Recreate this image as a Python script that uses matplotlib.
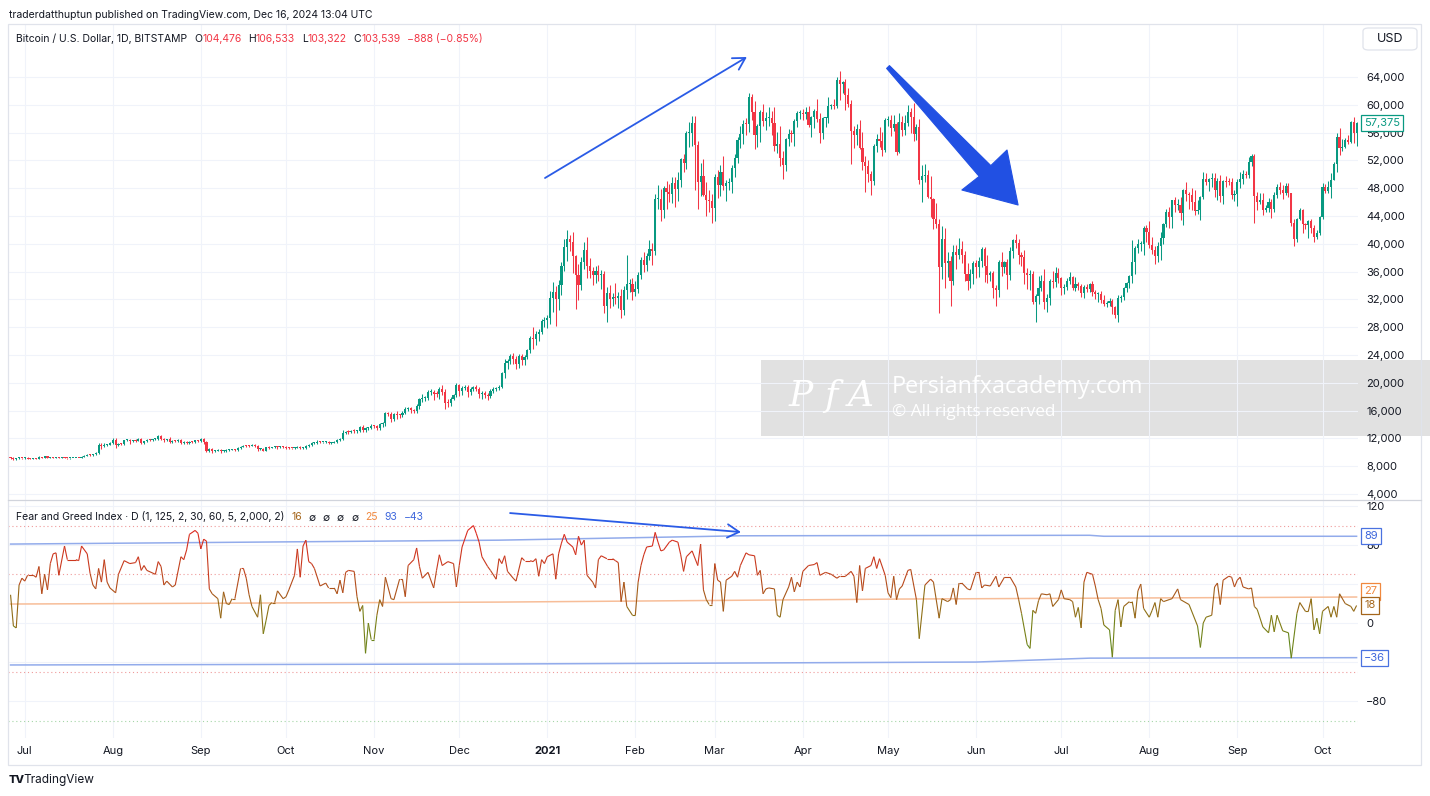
import numpy as np
import pandas as pd
import matplotlib
matplotlib.use("Agg")
import matplotlib.pyplot as plt
from matplotlib.collections import LineCollection
from matplotlib.colors import LinearSegmentedColormap, Normalize
from matplotlib.patches import Rectangle, Polygon, FancyBboxPatch
from matplotlib.lines import Line2D

plt.rcParams["font.family"] = ["Inter", "DejaVu Sans"]

W, H = 1430, 796
START = "2020-06-26"

# BTC/USD daily closes (Bitstamp), 2020-06-26 .. 2021-10-13
first_open = 9250
close = [
    9160, 9010, 9120, 9190, 9135,  # Jun 2020
    9230, 9090, 9060, 9130, 9075, 9340, 9250, 9430, 9235, 9290, 9235, 9300, 9240, 9250, 9195, 9130,
    9150, 9170, 9210, 9165, 9390, 9530, 9610, 9550, 9700, 9930, 11030, 10930, 11100, 11110, 11350,
    11800, 11070, 11230, 11190, 11750, 11770, 11600, 11760, 11690, 11890, 11400, 11580, 11780, 11770,
    11870, 11910, 12300, 11960, 11750, 11860, 11530, 11680, 11650, 11770, 11340, 11470, 11330, 11540,
    11480, 11710, 11680,
    11970, 11420, 10170, 10470, 10170, 10250, 10380, 10130, 10240, 10350, 10400, 10440, 10330, 10680,
    10790, 10960, 10950, 10940, 11090, 10920, 10420, 10540, 10240, 10740, 10690, 10730, 10780, 10700,
    10840, 10780,
    10620, 10570, 10550, 10670, 10790, 10600, 10670, 10920, 11060, 11300, 11380, 11550, 11420, 11430,
    11500, 11320, 11370, 11510, 11750, 11910, 12820, 12990, 12930, 13120, 13040, 13070, 13650, 13280,
    13460, 13560, 13800,
    13760, 13550, 14030, 14150, 15590, 15580, 14840, 15480, 15330, 15310, 15700, 16290, 16330, 16070,
    15960, 16730, 17660, 17800, 17820, 18690, 18690, 18420, 18370, 19160, 18730, 17150, 17140, 17720,
    18180, 19700,
    18770, 19220, 19430, 18650, 19150, 19360, 19170, 18320, 18550, 18250, 18040, 18800, 19170, 19270,
    19440, 21380, 22840, 23110, 23850, 23480, 22740, 23810, 23240, 23730, 24690, 26440, 26250, 27040,
    27370, 28860, 28990,
    29390, 32190, 33000, 32020, 34040, 36820, 39470, 40670, 40240, 38240, 35540, 34010, 37390, 39150,
    36830, 36070, 35550, 36020, 35500, 35600, 31000, 32990, 32100, 32290, 32250, 32510, 30430, 33400,
    34270, 34270, 33110,
    33520, 35510, 37670, 36990, 38290, 39260, 38900, 46440, 46510, 44850, 48000, 47410, 47230, 48720,
    47940, 49160, 52150, 51680, 55890, 55920, 57410, 54200, 48880, 49700, 47060, 46280, 46110, 45140,
    49590, 48440, 50350, 48370, 48750, 48880, 50970, 52380, 54880, 55860, 57250, 57230, 61180, 59000,
    55630, 56900, 58910, 57650, 58030, 58100, 57350, 54100, 54340, 52300, 51300, 55070, 55840, 55780,
    57610, 58760, 58800,
    58740, 58970, 57060, 58200, 59130, 57990, 56000, 58090, 58090, 59770, 59960, 59840, 63550, 62960,
    63230, 61450, 60060, 56220, 55720, 56470, 53800, 51700, 51190, 50110, 49070, 54020, 55030, 54820,
    53560, 57750,
    57830, 56630, 57210, 53240, 57470, 56430, 57360, 58920, 58280, 55860, 56750, 49150, 49720, 49880,
    46760, 46450, 43540, 42910, 36730, 40630, 37300, 37540, 34700, 38800, 38340, 39240, 38400, 35680,
    34610, 35680, 37300,
    36680, 37570, 39190, 36850, 35520, 35800, 33570, 33400, 37390, 36690, 37340, 35550, 39020, 40530,
    40160, 38350, 38090, 35820, 35480, 35600, 31680, 32510, 33690, 34670, 31640, 32160, 34650, 34500,
    35870, 35040,
    33570, 33810, 34670, 35290, 33690, 34230, 33860, 32880, 33810, 33510, 34260, 33090, 32730, 32820,
    31880, 31390, 31530, 31780, 30840, 29790, 32140, 32310, 33580, 34290, 35350, 37340, 39410, 40020,
    40030, 42240, 41630,
    39860, 39150, 38190, 39720, 40870, 42830, 44630, 43820, 46280, 45580, 45590, 44430, 47810, 47100,
    47050, 45990, 44700, 44800, 46720, 49340, 48870, 49270, 49510, 47710, 48970, 46870, 49070, 48900,
    48830, 47050, 47160,
    48830, 49260, 49990, 49920, 51790, 52700, 46880, 46070, 46370, 44850, 45160, 46060, 44960, 47090,
    48150, 47770, 47300, 48310, 47260, 43010, 40730, 43570, 44890, 42830, 42720, 43210, 42240, 41030,
    41520, 43790,
    48140, 47660, 48230, 49250, 51490, 55340, 53800, 53970, 54960, 54680, 57480, 56010, 57375,
]

# wick length above / below the body, percent of price
upper_wick_pct = [
    0.8, 1.2, 0.6, 0.9, 0.5,
    0.7, 0.6, 0.5, 0.4, 0.5, 0.6, 0.5, 0.4, 0.8, 0.6, 0.4, 0.5, 0.7, 0.6, 0.5, 0.4, 0.4, 0.5, 0.3, 0.4,
    0.8, 0.9, 1.0, 0.8, 0.7, 1.5, 3.4, 2.4, 1.8, 1.2, 1.0,
    2.6, 2.5, 1.2, 1.3, 0.7, 0.9, 1.5, 0.6, 0.9, 1.4, 1.7, 0.9, 0.8, 1.2, 0.9, 0.8, 1.0, 2.1, 1.4, 0.6,
    2.4, 0.8, 0.9, 1.0, 1.7, 1.1, 1.5, 0.8, 0.6, 0.7, 0.9,
    1.0, 1.0, 1.3, 1.1, 1.5, 1.2, 0.9, 1.6, 1.2, 1.8, 0.6, 0.7, 0.8, 1.3, 1.0, 0.8, 1.0, 1.1, 0.8, 0.9,
    1.2, 1.0, 1.2, 0.8, 1.0, 0.7, 1.0, 1.4, 0.6, 0.8,
    1.7, 0.9, 0.7, 0.9, 1.2, 1.3, 0.8, 1.4, 1.0, 1.4, 1.0, 1.3, 1.1, 1.0, 1.0, 1.2, 0.7, 0.8, 1.2, 1.3,
    3.0, 0.9, 1.3, 0.8, 1.3, 1.5, 1.0, 2.3, 1.2, 1.0, 1.6,
    1.0, 1.5, 1.2, 1.5, 1.6, 1.5, 1.3, 1.0, 2.6, 1.4, 1.3, 1.3, 1.0, 1.4, 1.2, 1.4, 1.0, 3.0, 1.4, 1.5,
    2.0, 1.6, 2.0, 1.5, 2.5, 2.0, 2.8, 1.4, 1.4, 1.4,
    1.0, 1.5, 1.6, 1.0, 1.0, 1.0, 1.4, 1.2, 1.8, 1.5, 1.2, 1.3, 1.2, 0.9, 1.2, 1.0, 2.5, 1.1, 1.0, 2.0,
    1.3, 1.5, 1.2, 1.4, 0.8, 1.0, 6.0, 1.5, 1.6, 1.0, 1.7,
    1.0, 3.0, 4.4, 3.0, 2.2, 1.6, 3.2, 3.1, 1.5, 3.7, 0.3, 4.5, 1.9, 3.0, 4.5, 3.0, 1.6, 2.0, 2.7, 1.6,
    1.5, 2.5, 3.2, 2.0, 6.2, 1.5, 3.0, 1.7, 12.0, 2.0, 2.2,
    3.2, 1.3, 1.2, 3.2, 1.0, 3.3, 2.1, 1.6, 4.2, 2.9, 0.8, 2.3, 2.6, 1.8, 1.7, 2.3, 0.3, 1.5, 0.7, 2.8,
    1.6, 1.8, 1.0, 3.9, 5.0, 4.0, 3.3, 2.3,
    0.8, 2.0, 1.9, 4.4, 0.8, 1.3, 0.7, 0.9, 0.9, 2.0, 1.0, 1.4, 0.9, 0.7, 2.7, 0.7, 0.5, 2.0, 1.7, 2.7,
    1.8, 4.0, 3.1, 4.8, 2.0, 0.4, 1.2, 1.0, 0.7, 0.6, 0.7,
    0.9, 1.3, 1.4, 0.3, 0.4, 2.9, 1.4, 0.2, 0.2, 2.3, 0.3, 1.5, 0.7, 2.0, 0.4, 0.8, 1.6, 1.0, 1.2, 1.4,
    2.5, 4.2, 1.9, 1.7, 0.6, 0.6, 1.3, 3.1, 2.2, 0.6,
    1.0, 1.2, 2.4, 0.6, 2.4, 1.5, 2.0, 1.9, 1.1, 3.3, 0.9, 2.2, 3.2, 3.2, 1.6, 6.5, 0.3, 5.2, 1.4, 4.6,
    3.9, 3.4, 2.0, 2.8, 2.6, 4.0, 3.0, 1.3, 4.3, 2.0, 0.5,
    1.0, 1.3, 1.0, 0.9, 4.3, 0.9, 1.0, 1.6, 0.8, 4.0, 0.6, 1.2, 1.4, 0.3, 2.1, 1.2, 1.2, 2.8, 1.8, 1.8,
    1.5, 1.0, 5.0, 2.3, 5.1, 1.9, 0.7, 4.0, 2.4, 1.8,
    0.7, 1.0, 1.1, 1.8, 0.3, 3.0, 0.8, 1.2, 0.6, 1.2, 0.4, 1.1, 0.9, 0.8, 1.0, 2.5, 0.8, 1.3, 1.0, 0.9,
    1.4, 1.2, 0.8, 0.7, 0.6, 8.5, 0.6, 1.5, 1.1, 0.6, 1.2,
    4.0, 2.9, 1.5, 1.2, 2.0, 0.5, 0.7, 1.5, 0.2, 1.1, 1.9, 2.5, 0.2, 2.2, 0.9, 2.0, 3.8, 3.2, 0.2, 2.0,
    1.8, 0.3, 1.5, 1.3, 1.0, 1.8, 0.2, 1.3, 1.1, 1.3, 1.2,
    0.9, 2.1, 1.3, 0.9, 1.3, 0.5, 0.4, 1.3, 2.0, 2.1, 0.9, 1.1, 0.9, 0.8, 0.8, 1.5, 1.4, 0.8, 1.0, 0.2,
    1.4, 0.3, 0.6, 0.3, 0.4, 0.6, 0.9, 1.0, 1.2, 0.6,
    1.2, 1.0, 1.8, 1.8, 0.5, 1.0, 2.3, 2.1, 0.4, 1.3, 0.3, 1.4, 0.2,
]
lower_wick_pct = [
    1.5, 0.9, 0.8, 0.7, 0.6,
    0.8, 0.9, 0.7, 0.6, 0.8, 0.6, 0.7, 0.6, 0.9, 1.1, 0.5, 0.6, 0.8, 0.9, 0.7, 1.0, 0.5, 0.4, 0.5, 0.6,
    0.4, 0.6, 1.3, 1.1, 0.9, 0.8, 1.2, 3.8, 1.5, 1.4, 1.1,
    1.0, 4.1, 1.4, 1.7, 1.2, 1.1, 2.9, 1.0, 1.5, 1.0, 1.2, 1.5, 1.0, 1.6, 0.7, 1.3, 1.2, 1.9, 1.8, 1.4,
    1.1, 1.9, 1.0, 0.9, 1.3, 1.0, 1.8, 0.9, 0.8, 0.9, 1.2,
    1.2, 2.0, 1.5, 1.9, 2.8, 1.1, 1.3, 2.0, 1.2, 1.4, 0.9, 0.8, 1.6, 1.0, 1.4, 0.9, 1.6, 1.1, 0.9, 1.5,
    2.2, 1.2, 1.0, 0.9, 1.8, 0.8, 0.7, 1.5, 1.0, 0.9,
    1.5, 1.4, 0.6, 0.9, 0.9, 1.5, 0.7, 1.2, 1.0, 1.4, 0.8, 1.4, 1.3, 0.9, 1.2, 1.0, 0.7, 0.8, 0.9, 1.2,
    1.2, 1.6, 2.2, 1.0, 1.7, 2.3, 1.2, 2.7, 2.3, 1.5, 1.4,
    1.6, 2.4, 2.5, 3.0, 2.2, 2.5, 3.7, 1.9, 3.4, 2.2, 1.6, 1.5, 2.5, 2.6, 2.2, 1.6, 3.0, 2.7, 2.4, 1.5,
    2.2, 5.0, 2.0, 3.5, 2.5, 5.0, 3.8, 2.6, 1.5, 1.6,
    3.6, 2.5, 1.2, 3.4, 1.9, 1.8, 1.8, 2.9, 3.4, 2.3, 3.2, 1.2, 1.4, 1.6, 1.4, 1.2, 3.0, 3.6, 1.5, 3.6,
    3.6, 2.5, 3.2, 2.7, 1.4, 1.8, 5.2, 3.2, 3.6, 1.5, 3.0,
    3.6, 3.4, 6.1, 12.0, 5.0, 4.2, 1.8, 5.0, 3.1, 6.5, 14.0, 6.0, 1.8, 2.8, 4.6, 2.6, 4.0, 3.5, 2.4, 5.7,
    3.0, 7.1, 4.2, 3.2, 2.7, 4.7, 3.5, 2.4, 4.2, 3.4, 3.4,
    2.0, 1.6, 1.6, 3.0, 2.4, 1.5, 5.0, 1.3, 3.0, 3.6, 2.6, 5.0, 2.6, 3.0, 5.6, 3.8, 2.0, 2.6, 1.8, 3.4,
    3.2, 12.0, 8.0, 4.2, 0.5, 4.8, 3.2, 4.6,
    4.0, 3.8, 3.3, 1.4, 4.7, 2.2, 3.2, 2.8, 1.5, 1.9, 2.6, 2.8, 2.1, 1.9, 3.5, 3.1, 4.0, 1.3, 2.3, 1.8,
    3.0, 1.4, 1.8, 2.1, 3.8, 1.7, 1.9, 2.0, 3.1, 1.5, 1.3,
    1.7, 1.4, 0.5, 3.0, 2.7, 0.9, 2.8, 1.6, 2.3, 1.2, 0.7, 0.8, 0.4, 3.6, 1.9, 3.5, 0.6, 8.4, 3.6, 2.8,
    0.4, 2.0, 7.2, 2.4, 4.2, 1.3, 1.5, 1.7, 1.8, 0.6,
    1.3, 1.9, 0.6, 1.0, 0.4, 1.6, 1.4, 0.8, 3.9, 1.8, 1.6, 1.1, 6.4, 1.8, 0.3, 5.7, 3.3, 1.4, 18.3, 5.0,
    10.0, 5.4, 10.4, 2.0, 5.0, 1.4, 3.0, 2.7, 3.5, 2.6, 4.0,
    4.2, 3.8, 2.6, 6.3, 3.2, 2.4, 4.2, 7.1, 3.1, 3.5, 2.3, 5.8, 2.0, 2.9, 1.8, 3.1, 3.2, 4.4, 5.4, 6.0,
    1.2, 9.1, 3.7, 1.3, 3.0, 4.5, 2.8, 2.5, 2.0, 2.0,
    3.0, 2.3, 1.2, 1.5, 1.0, 1.3, 1.5, 1.8, 1.9, 1.2, 1.3, 1.6, 1.9, 3.4, 1.1, 1.0, 1.6, 1.5, 3.0, 1.7,
    3.5, 1.7, 1.2, 1.5, 1.8, 2.8, 4.7, 2.0, 2.5, 4.1, 3.4,
    1.1, 1.4, 3.0, 2.0, 5.2, 2.1, 1.1, 3.6, 3.6, 2.1, 1.7, 2.4, 3.8, 2.1, 4.2, 2.3, 1.3, 0.8, 3.0, 0.5,
    0.9, 2.6, 2.2, 2.1, 2.8, 1.9, 2.3, 1.4, 0.9, 1.4, 2.0,
    3.5, 1.7, 1.2, 0.9, 0.8, 1.1, 8.3, 2.6, 0.7, 1.5, 0.5, 1.2, 2.8, 0.7, 1.1, 1.4, 1.7, 0.6, 1.0, 1.2,
    2.6, 1.0, 0.4, 3.0, 1.5, 4.5, 1.5, 1.9, 0.7, 0.7,
    0.5, 0.8, 0.7, 3.3, 0.2, 2.2, 2.0, 0.8, 0.4, 0.6, 0.3, 2.7, 3.5,
]

# oscillator readings: (day from START, value)
osc_points = [
    (0, 29), (1, -3), (2, -5), (3, 39), (4, 46), (5, 43), (6, 49), (8, 49), (9, 47), (10, 58),
    (11, 30), (12, 50), (13, 34), (14, 61), (15, 71), (16, 72), (17, 49), (19, 79), (20, 65),
    (23, 65), (24, 64), (25, 79), (27, 71), (28, 51), (29, 39), (30, 35), (31, 56), (32, 42),
    (33, 65), (34, 42), (35, 36), (37, 31), (38, 50), (40, 64), (42, 61), (44, 62), (45, 68),
    (46, 54), (47, 59), (48, 54), (51, 50), (52, 63), (53, 58), (54, 39), (55, 43), (57, 37),
    (58, 39), (60, 68), (61, 65), (62, 75), (63, 91), (65, 95), (66, 92), (67, 76), (68, 86),
    (69, 84), (70, 35), (71, 30), (73, 25), (74, 5), (75, 32), (76, 20), (77, 19), (78, 25),
    (79, 25), (81, 56), (82, 56), (83, 46), (84, 29), (85, 17), (87, 6), (88, 29), (89, -11),
    (90, 3), (91, 18), (92, 21), (93, 21), (94, 33), (96, 25), (97, 27), (98, 34), (100, 49),
    (101, 76), (102, 47), (103, 79), (104, 85), (105, 63), (106, 61), (107, 56), (109, 38),
    (111, 41), (112, 36), (114, 36), (115, 30), (116, 44), (117, 31), (118, 52), (119, 54),
    (121, 53), (122, 27), (123, 12), (124, 18), (125, -31), (126, 0), (127, -17), (128, -17),
    (129, 8), (130, 24), (131, 17), (132, 47), (134, 25), (135, 24), (137, 45), (138, 45),
    (139, 27), (140, 59), (142, 65), (143, 77), (144, 58), (145, 46), (147, 52), (149, 36),
    (150, 54), (151, 70), (152, 59), (154, 63), (156, 61), (157, 37), (158, 59), (159, 78),
    (161, 95), (163, 100), (164, 92), (165, 83), (166, 68), (168, 58), (169, 54), (171, 45),
    (172, 66), (173, 61), (174, 69), (175, 53), (177, 46), (178, 43), (180, 67), (181, 64),
    (183, 64), (184, 63), (185, 66), (186, 48), (187, 65), (188, 61), (189, 68), (191, 71),
    (192, 45), (193, 71), (194, 82), (195, 91), (196, 83), (198, 78), (199, 70), (200, 89),
    (201, 80), (202, 85), (203, 49), (205, 42), (206, 36), (207, 65), (208, 69), (210, 66),
    (212, 66), (213, 64), (214, 62), (215, 22), (216, 42), (217, 17), (219, 8), (220, 8),
    (221, 42), (222, 59), (223, 70), (224, 78), (226, 79), (227, 93), (228, 83), (229, 74),
    (230, 75), (232, 83), (233, 85), (235, 83), (236, 70), (237, 53), (238, 68), (240, 74),
    (242, 59), (243, 81), (244, 34), (245, 24), (246, 19), (247, 19), (248, 61), (249, 44),
    (250, 42), (251, 12), (252, 44), (254, 48), (255, 53), (256, 47), (257, 59), (259, 72),
    (260, 70), (262, 69), (263, 49), (264, 54), (265, 30), (266, 35), (267, 36), (269, 35),
    (270, 8), (271, 6), (272, 24), (274, 37), (275, 47), (276, 32), (277, 42), (278, 37),
    (279, 53), (281, 59), (283, 60), (284, 62), (285, 49), (287, 52), (289, 50), (291, 46),
    (292, 48), (294, 48), (296, 53), (297, 48), (298, 21), (299, 59), (300, 33), (301, 56),
    (303, 59), (304, 68), (305, 56), (306, 66), (308, 49), (309, 31), (310, 26), (311, 48),
    (312, 24), (313, 35), (314, 38), (316, 54), (317, 55), (319, 24), (320, -16), (322, 39),
    (324, 45), (325, 42), (327, 5), (328, 25), (330, 22), (331, 24), (332, 36), (333, 19),
    (334, 41), (335, 41), (337, 35), (338, 34), (340, 52), (341, 52), (342, 36), (343, 39),
    (345, 38), (347, 48), (348, 37), (350, 47), (352, 47), (354, 37), (355, 24), (356, 10),
    (358, -22), (359, -26), (360, 13), (361, 10), (362, 23), (363, 30), (365, 29), (366, 30),
    (367, 17), (369, 24), (370, 34), (371, 25), (373, 24), (374, 22), (375, 6), (376, 16),
    (377, -5), (378, 42), (379, 52), (381, 50), (382, 38), (383, 24), (384, 15), (385, -2),
    (387, -7), (388, -35), (389, 13), (390, 24), (391, -4), (392, 17), (394, 22), (395, 22),
    (396, 5), (397, 33), (398, 40), (399, 15), (401, 6), (402, 13), (403, 21), (404, 6),
    (405, 25), (406, 22), (408, 24), (409, 25), (411, 35), (412, 24), (415, 19), (418, -3),
    (419, -25), (420, 0), (421, 6), (423, 8), (424, 37), (425, 41), (426, 19), (427, 44),
    (429, 48), (430, 47), (431, 37), (432, 44), (433, 47), (434, 37), (436, 35), (437, 36),
    (438, 17), (439, 14), (441, -4), (443, -10), (444, 8), (445, -9), (446, 8), (448, -8),
    (450, -10), (451, -36), (453, 10), (454, 21), (456, 12), (457, 12), (458, 25), (459, -7),
    (460, 5), (461, -11), (462, 12), (464, 17), (465, 6), (466, 17), (467, 6), (468, 30),
    (470, 20), (472, 17), (473, 12), (474, 18),
]
upper_band_day = [0, 172, 257, 380, 385, 474]
upper_band_val = [81, 85, 89.5, 90, 89, 89]
lower_band_day = [0, 172, 340, 380, 474]
lower_band_val = [-43, -42, -40, -36, -35.5]
mid_band_day = [0, 172, 313, 474]
mid_band_val = [19.5, 21.5, 24.6, 26.7]

price_ticks = list(range(4000, 64001, 4000))
osc_ticks = [120, 80, 0, -80]
osc_grid = [120, 80, 40, 0, -40, -80]
last_price = 57375

UP, DOWN = "#089981", "#f23645"
GRID = "#f0f3fa"
TXT = "#131722"
BLUE = "#2a5be6"


def fx(px):
    return px / W


def fy(py):
    return 1 - py / H


fig = plt.figure(figsize=(W / 100, H / 100), dpi=100)
ax1 = fig.add_axes([fx(8), fy(500), fx(1358) - fx(8), fy(24) - fy(500)])
ax2 = fig.add_axes([fx(8), fy(738), fx(1358) - fx(8), fy(500) - fy(738)])
for ax in (ax1, ax2):
    ax.set_xlim(-0.9, 474.5)
    for s in ax.spines.values():
        s.set_visible(False)
ax1.set_ylim(3137, 71626)
ax2.set_ylim(-117.9, 126.2)

# ---- candles
n = min(len(close), len(upper_wick_pct), len(lower_wick_pct))
c = np.array(close[:n], float)
o = np.r_[first_open, c[:-1]]
uw = np.array(upper_wick_pct[:n]) / 100
lw = np.array(lower_wick_pct[:n]) / 100
top = np.maximum(o, c)
bot = np.minimum(o, c)
hi = top * (1 + uw)
lo = bot * (1 - lw)
days = np.arange(n)
cols = np.where(c >= o, UP, DOWN)
one_px = (71626 - 3137) / 476.0
ax1.vlines(days, lo, hi, colors=cols, lw=0.75, zorder=2)
ax1.bar(days, np.maximum(top - bot, one_px), bottom=bot, width=0.75, color=cols,
        linewidth=0, zorder=3)

# ---- grid
dates = pd.date_range(START, periods=475, freq="D")
month_days = [i for i, d in enumerate(dates) if d.day == 1]
month_labels = ["2021" if dates[i].month == 1 else dates[i].strftime("%b") for i in month_days]
for p in price_ticks:
    ax1.axhline(p, color=GRID, lw=0.8, zorder=0.6)
for v in osc_grid:
    ax2.axhline(v, color=GRID, lw=0.8, zorder=0.6)
for m in month_days:
    ax1.axvline(m, color=GRID, lw=0.8, zorder=0.6)
    ax2.axvline(m, color=GRID, lw=0.8, zorder=0.6)

ax1.set_xticks([])
ax1.yaxis.tick_right()
ax1.set_yticks(price_ticks)
ax1.set_yticklabels([f"{p:,}" for p in price_ticks])
ax1.tick_params(axis="y", length=0, pad=5.8, labelsize=8, labelcolor=TXT)

ax2.yaxis.tick_right()
ax2.set_yticks(osc_ticks)
ax2.set_yticklabels([str(v).replace("-", "\u2212") for v in osc_ticks])
ax2.tick_params(axis="y", length=0, pad=5.8, labelsize=8, labelcolor=TXT)
ax2.set_xticks(month_days)
ax2.set_xticklabels(month_labels)
ax2.tick_params(axis="x", length=0, pad=6, labelsize=8, labelcolor=TXT)
for lab in ax2.get_xticklabels():
    if lab.get_text() == "2021":
        lab.set_fontweight("bold")

# ---- oscillator pane
for lvl, col in [(100, "#ef9a9a"), (50, "#ef9a9a"), (-50, "#ef9a9a"), (-100, "#a5d6a7")]:
    ax2.axhline(lvl, color=col, lw=0.8, ls=(0, (1, 2.5)), zorder=0.7)
ax2.plot(upper_band_day, upper_band_val, color="#92abeb", lw=1.1, zorder=1.5)
ax2.plot(lower_band_day, lower_band_val, color="#92abeb", lw=1.1, zorder=1.5)
ax2.plot(mid_band_day, mid_band_val, color="#f7bd98", lw=1.1, zorder=1.5)

od = np.array([p[0] for p in osc_points], float)
ov = np.array([p[1] for p in osc_points], float)
pts = np.column_stack([od, ov])
segs = np.stack([pts[:-1], pts[1:]], axis=1)
cmap = LinearSegmentedColormap.from_list(
    "fg", [(0, "#4f8f23"), (0.286, "#7f7d14"), (0.5, "#a8581a"), (0.714, "#c93a1e"), (1, "#e0261f")])
norm = Normalize(-40, 100)
lc = LineCollection(segs, colors=cmap(norm((ov[:-1] + ov[1:]) / 2)), linewidths=0.8, zorder=3)
ax2.add_collection(lc)


def side_label(ax, val, text, ec, tc, dy=0):
    ax.annotate(text, xy=(1, val), xycoords=ax.get_yaxis_transform(), xytext=(4.5, dy),
                textcoords="offset points", ha="left", va="center", size=8, color=tc,
                bbox=dict(boxstyle="square,pad=0.28", fc="white", ec=ec, lw=0.9),
                annotation_clip=False, zorder=8)


side_label(ax1, last_price, f"{last_price:,}", UP, UP)
side_label(ax2, upper_band_val[-1], "89", "#4a72e0", "#3d66dc")
side_label(ax2, mid_band_val[-1], "27", "#f0883e", "#f0883e", dy=4)
side_label(ax2, ov[-1], "18", "#a4651b", "#a4651b")
side_label(ax2, lower_band_val[-1], "\u221236", "#4a72e0", "#3d66dc")

# ---- drawings
ax1.annotate("", xy=(259.3, 66878), xytext=(188.2, 49468),
             arrowprops=dict(arrowstyle="->,head_length=0.7,head_width=0.4", color=BLUE,
                             lw=1.3, mutation_scale=12, shrinkA=0, shrinkB=0),
             annotation_clip=False, zorder=6)
ax2.annotate("", xy=(257.2, 93.3), xytext=(175.9, 112.8),
             arrowprops=dict(arrowstyle="->,head_length=0.7,head_width=0.4", color=BLUE,
                             lw=1.3, mutation_scale=12, shrinkA=0, shrinkB=0),
             annotation_clip=False, zorder=6)
big_arrow = [(309.5, 65640), (345.2, 51252), (350.9, 53496), (354.8, 45583),
             (335.0, 47741), (341.1, 49698), (308.5, 65237)]
ax1.add_patch(Polygon(big_arrow, closed=True, fc="#2150e3", ec="#2150e3", lw=0.8,
                      joinstyle="round", zorder=6))

# ---- watermark
ax1.add_patch(Rectangle((fx(761), fy(436)), fx(1430) - fx(761), fy(360) - fy(436),
                        transform=fig.transFigure, fc="#e1e1e1", ec="none", zorder=0.5,
                        clip_on=False))
for x_px, ch in [(801, "P"), (831, "f"), (861, "A")]:
    ax1.text(fx(x_px), fy(396), ch, transform=fig.transFigure, color="white", size=26,
             ha="center", va="center", family="DejaVu Serif", style="italic", zorder=4)
ax1.text(fx(892), fy(387), "Persianfxacademy.com", transform=fig.transFigure, color="white",
         size=16.8, family="Open Sans", va="center", zorder=4)
ax1.text(fx(892), fy(412), "\u00a9 All rights reserved", transform=fig.transFigure,
         color="white", size=12.3, family="Open Sans", va="center", zorder=4)


# ---- legends (pieces chained one after another)
def chain_text(ax, x_px, y_px, parts, size=7.5):
    t = ax.text(fx(x_px), fy(y_px), parts[0][0], color=parts[0][1], size=size, va="center",
                transform=fig.transFigure, zorder=9)
    for s, col, gap in parts[1:]:
        t = ax.annotate(s, xy=(1, 0), xycoords=t, xytext=(gap, 0), textcoords="offset points",
                        ha="left", va="bottom", color=col, size=size, annotation_clip=False,
                        zorder=9)


chain_text(ax1, 16, 39, [("Bitcoin / U.S. Dollar, 1D, BITSTAMP", TXT),
                         ("O", TXT, 5), ("104,476", DOWN, 0), ("H", TXT, 5), ("106,533", DOWN, 0),
                         ("L", TXT, 5), ("103,322", DOWN, 0), ("C", TXT, 5), ("103,539", DOWN, 0),
                         ("\u2212888 (\u22120.85%)", DOWN, 5)])
chain_text(ax2, 16, 517, [("Fear and Greed Index \u00b7 D (1, 125, 2, 30, 60, 5, 2,000, 2)", TXT),
                          ("16", "#a4651b", 5), ("\u2205", TXT, 5), ("\u2205", TXT, 5),
                          ("\u2205", TXT, 5), ("\u2205", TXT, 5), ("25", "#f0883e", 5),
                          ("93", "#3d66dc", 5), ("\u221243", "#3d66dc", 5)])

fig.text(fx(9), fy(15), "traderdatthuptun published on TradingView.com, Dec 16, 2024 13:04 UTC",
         size=7.5, color=TXT, va="center")

# USD box
fig.add_artist(FancyBboxPatch((fx(1363), fy(50)), fx(1417) - fx(1363), fy(28) - fy(50),
                              boxstyle="round,pad=0,rounding_size=0.004",
                              transform=fig.transFigure, fc="white", ec="#e0e3eb", lw=0.9))
fig.text(fx(1390), fy(39), "USD", size=9, color=TXT, ha="center", va="center")

# frame + pane separator
fig.add_artist(Rectangle((fx(8), fy(765)), fx(1421) - fx(8), fy(24) - fy(765), fill=False,
                         ec="#e0e3eb", lw=0.9, transform=fig.transFigure))
fig.add_artist(Line2D([fx(8), fx(1421)], [fy(500), fy(500)], color="#d1d4dc", lw=0.9,
                      transform=fig.transFigure))

# footer logo
fig.text(fx(9), fy(780), "TV", size=8, weight="heavy", color=TXT, va="center")
fig.text(fx(23), fy(780), "TradingView", size=8.5, color=TXT, va="center")

fig.savefig("out.png", dpi=100)
